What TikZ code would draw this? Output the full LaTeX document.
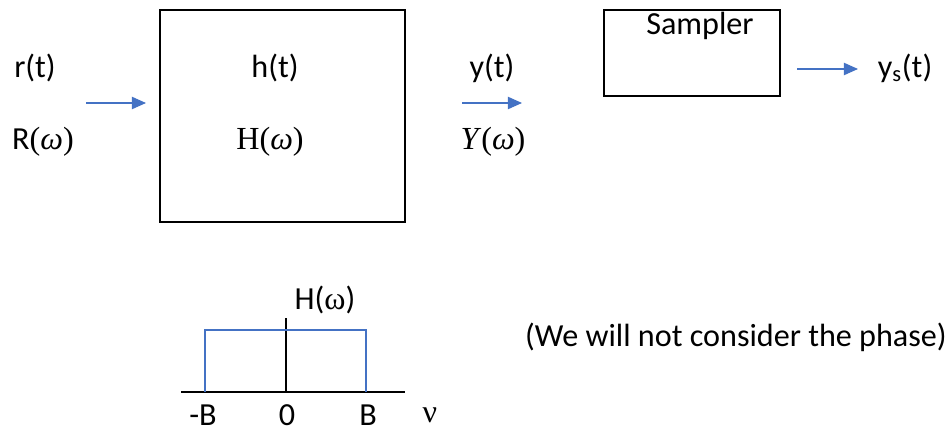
\documentclass[tikz,border=0pt]{standalone}
\usepackage[no-math]{fontspec}
\setmainfont{Carlito}
\newfontfamily\mates{Liberation Serif}
\usepackage{tikz}
\usepackage{xcolor}
\usetikzlibrary{arrows.meta}
\definecolor{azul}{HTML}{4472C4}

\begin{document}
\begin{tikzpicture}
  [
    x=0.02cm, y=-0.02cm,
    % estilos para no repetir codigo
    bloque/.style={draw, line width=1.1pt},
    etiq/.style={font=\fontsize{18.3}{21}\selectfont, inner sep=0pt},
    flecha/.style={draw=azul, line width=0.6pt, -{Triangle[length=8pt, width=7pt]}},
    espectro/.style={draw=azul, line width=0.7pt}
  ]
  \useasboundingbox (0,0) rectangle (950,432);
  % sistema
  \draw[bloque] (160,10) rectangle (405,222);
  \node[etiq] (ht) at (275,68) {h(t)};
  \node[etiq] (Hw) at (270,142) {\mates H(\textit{ω})};
  % entrada
  \node[etiq] (rt) at (35,68) {r(t)};
  \node[etiq] (Rw) at (43,142) {R{\mates(\textit{ω})}};
  \coordinate (in1) at (86,103);
  \coordinate (in2) at (146,103);
  \draw[flecha] (in1) -- (in2);
  % salida
  \node[etiq] (yt) at (492,68) {y(t)};
  \node[etiq] (Yw) at (493,142) {\mates\textit{Y}(\textit{ω})};
  \coordinate (out1) at (462,103);
  \coordinate (out2) at (522,103);
  \draw[flecha] (out1) -- (out2);
  % muestreador
  \draw[bloque] (604,10) rectangle (780,96);
  \node[etiq] (samp) at (700,26) {Sampler};
  \coordinate (s1) at (797,69);
  \coordinate (s2) at (858,69);
  \draw[flecha] (s1) -- (s2);
  \node[etiq] (ys) at (905,68) {y\textsubscript{s}(t)};
  % respuesta en frecuencia
  \coordinate (ejeA) at (181,392);
  \coordinate (ejeB) at (405,392);
  \coordinate (ejeV) at (286,318);
  \coordinate (orig) at (286,392);
  \draw[line width=0.6pt] (ejeA) -- (ejeB);
  \draw[line width=0.6pt] (orig) -- (ejeV);
  \draw[espectro] (205,392) -- (205,330) -- (366,330) -- (366,392);
  \node[etiq] (Hlab) at (325,300) {H({\mates ω})};
  \node[etiq] (mB) at (203,415) {-B};
  \node[etiq] (cero) at (287,415) {0};
  \node[etiq] (pB) at (368,415) {B};
  \node[etiq] (nu) at (430,415) {{\mates ν}};
  \node[etiq] (fase) at (736,337) {(We will not consider the phase)};
\end{tikzpicture}
\end{document}
